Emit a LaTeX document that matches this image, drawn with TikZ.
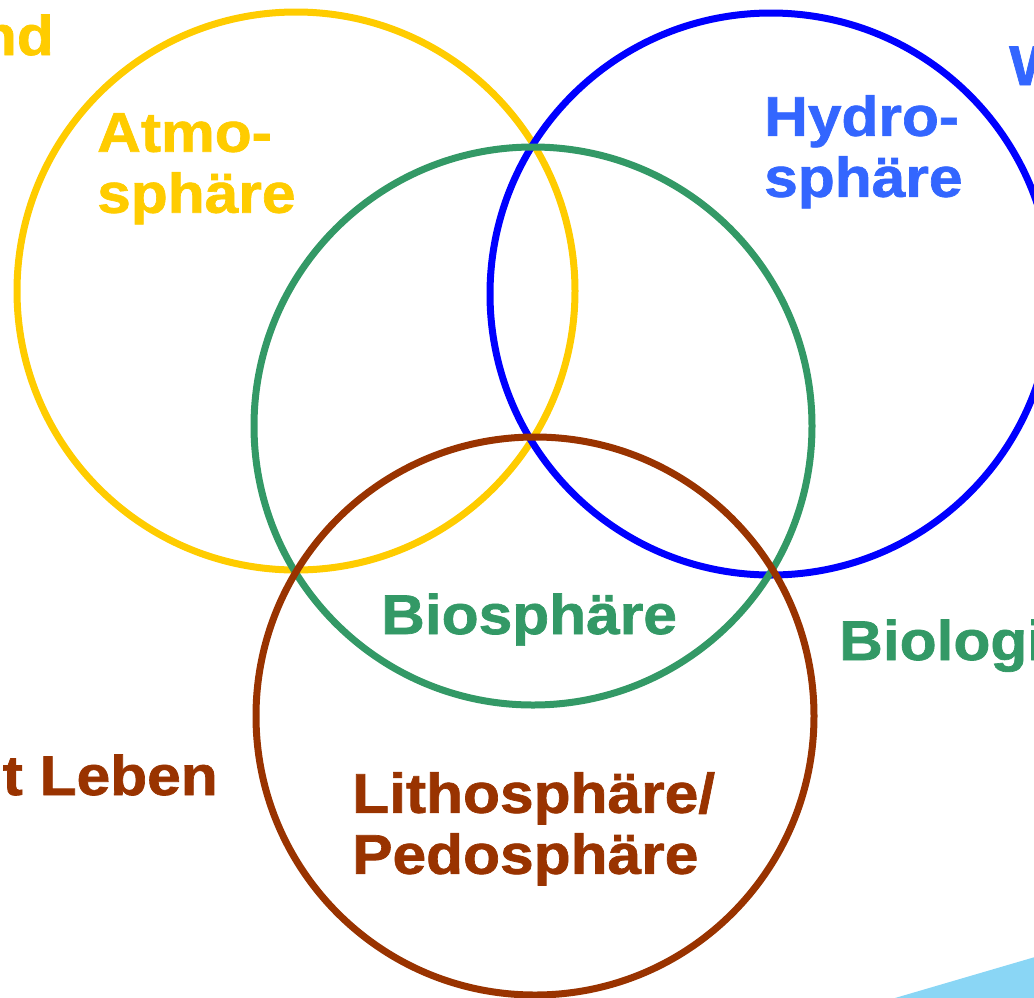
\documentclass[tikz,border=0pt]{standalone}
\usepackage{fontspec}
\newfontfamily\spherefont{Liberation Sans}[FakeStretch=1.08, FakeBold=1.2]
\usepackage{tikz}
\usetikzlibrary{positioning}
\usepackage{xcolor}
\definecolor{spyellow}{RGB}{255,204,0}
\definecolor{spblue}{RGB}{0,0,255}
\definecolor{sptextblue}{RGB}{51,102,255}
\definecolor{spgreen}{RGB}{51,153,102}
\definecolor{spbrown}{RGB}{153,51,0}
\definecolor{splightblue}{RGB}{138,214,245}
\tikzstyle{ring} = [circle, line width=7pt, minimum size=558pt, inner sep=0pt]
\tikzstyle{label} = [font=\spherefont\bfseries\fontsize{56}{61}\selectfont, inner sep=0pt, align=left]

\begin{document}
\begin{tikzpicture}[x=1pt, y=-1pt]
    \useasboundingbox (0,0) rectangle (1034,997);
    \clip (0,0) rectangle (1034,997);

    % Corner wedge
    \fill[splightblue] (895,998) -- (1035,957) -- (1035,998) -- cycle;

    % Spheres
    \node[ring, draw=spyellow] (atmo) at (296,291) {};
    \node[ring, draw=spblue, minimum size=562pt] (hydro) at (771,294) {};
    \node[ring, draw=spgreen] (bio) at (533,426) {};
    \node[ring, draw=spbrown] (litho) at (535,716) {};

    % Sphere names
    \node[label, text=spyellow, anchor=north west] (atmotext) at (97,113) {Atmo-\\sphäre};
    \node[label, text=sptextblue, anchor=north west] (hydrotext) at (764,95) {Hydro-\\sphäre};
    \node[label, text=spgreen, anchor=base west] (biotext) at (381,634) {Biosphäre};
    \node[label, text=spbrown, anchor=north west] (lithotext) at (352,772) {Lithosphäre/\\Pedosphäre};

    % Cut-off words at the edges
    \node[label, text=spyellow, anchor=base east] (edgetl) at (54,55) {nd};
    \node[label, text=sptextblue, anchor=base west] (edgetr) at (1009,85) {W};
    \node[label, text=spgreen, anchor=base west] (edgeright) at (839,660) {Biologi};
    \node[label, text=spbrown, anchor=base east] (edgeleft) at (218,795) {t Leben};
\end{tikzpicture}
\end{document}
